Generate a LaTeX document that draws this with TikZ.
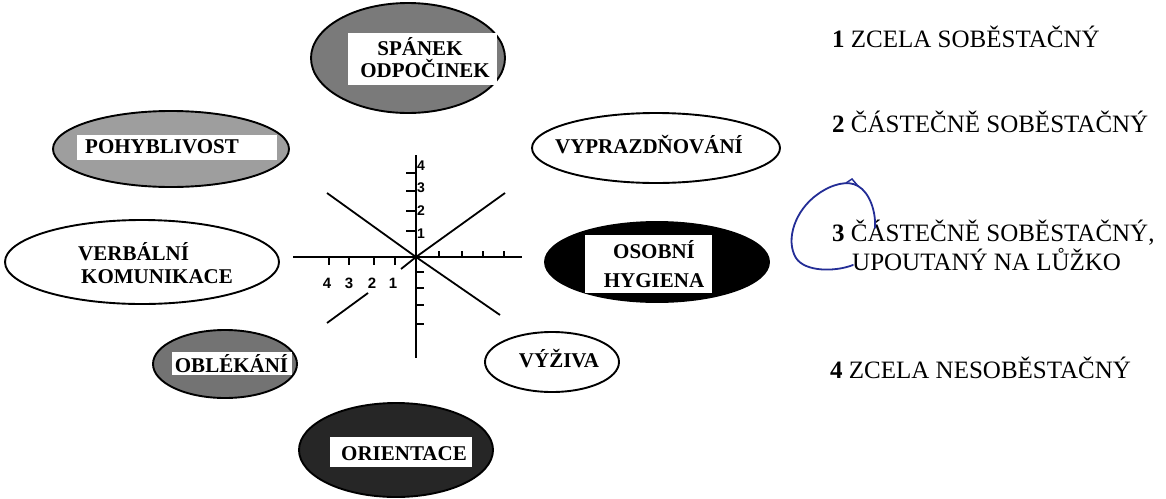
\documentclass[tikz,border=0pt]{standalone}
\usepackage{fontspec}
\setmainfont{Liberation Serif}
\setsansfont{Liberation Sans}
\usetikzlibrary{shapes.geometric}
\definecolor{penblue}{RGB}{35,45,150}
\begin{document}
\begin{tikzpicture}[x=1pt,y=-1pt,
  oval/.style={ellipse, draw=black, line width=1.9pt, inner sep=0pt},
  wbox/.style={fill=white, inner sep=0pt},
  lbl/.style={font=\fontsize{21}{22}\selectfont\bfseries, inner sep=0pt, anchor=base},
  axisline/.style={line width=1.8pt},
  tickline/.style={line width=1.5pt},
  num/.style={font=\sffamily\bfseries\fontsize{14}{14}\selectfont, inner sep=0pt, anchor=base},
  leg/.style={font=\fontsize{25}{27}\selectfont, anchor=base west, inner sep=0pt}]
\useasboundingbox[fill=white] (0,0) rectangle (1166,498);

% ---- ellipses ----
\node[oval, fill=black!52, minimum width=194, minimum height=110] (spanek) at (408,58) {};
\node[wbox, minimum width=149, minimum height=52] (spanekbox) at (422.5,59) {};
\node[lbl] (spanek1) at (420,55) {SPÁNEK};
\node[lbl] (spanek2) at (425,77) {ODPOČINEK};

\node[oval, fill=black!38, minimum width=236, minimum height=76] (pohyb) at (171,149) {};
\node[wbox, minimum width=200, minimum height=25] (pohybbox) at (177,147.5) {};
\node[lbl] (pohybt) at (162,153) {POHYBLIVOST};

\node[oval, fill=white, minimum width=274, minimum height=84] (verb) at (142,262) {};
\node[lbl, anchor=base west] (verb1) at (78,260) {VERBÁLNÍ};
\node[lbl, anchor=base west] (verb2) at (81,283) {KOMUNIKACE};

\node[oval, fill=white, minimum width=248, minimum height=70] (vypr) at (656,148) {};
\node[lbl] (vyprt) at (649,153) {VYPRAZDŇOVÁNÍ};

\node[oval, fill=black, minimum width=224, minimum height=80] (osob) at (657,262) {};
\node[wbox, minimum width=127, minimum height=58] (osobbox) at (648.5,264) {};
\node[lbl] (osob1) at (654,258) {OSOBNÍ};
\node[lbl] (osob2) at (654,287) {HYGIENA};

\node[oval, fill=black!55, minimum width=144, minimum height=68] (oblek) at (225,364) {};
\node[wbox, minimum width=120, minimum height=23] (oblekbox) at (232,363.5) {};
\node[lbl] (oblekt) at (231.5,372) {OBLÉKÁNÍ};

\node[oval, fill=white, minimum width=134, minimum height=60] (vyziva) at (552,362) {};
\node[lbl] (vyzivat) at (559,367) {VÝŽIVA};

\node[oval, fill=black!85, minimum width=194, minimum height=94] (orient) at (396,450) {};
\node[wbox, minimum width=142, minimum height=30] (orientbox) at (401,452) {};
\node[lbl] (orientt) at (404,460) {ORIENTACE};

% ---- axes ----
\coordinate (O) at (416,257);
\coordinate (xl) at (293,257);
\coordinate (xr) at (522,257);
\coordinate (yt) at (416,155);
\coordinate (yb) at (416,358);
\coordinate (ul) at (327,193);
\coordinate (ur) at (505,193);
\coordinate (lr) at (500,315);
\coordinate (llA) at (401,269);
\coordinate (llB) at (368,293);
\coordinate (llC) at (327,323);
\draw[axisline] (xl) -- (xr);
\draw[axisline] (yt) -- (yb);
\draw[axisline] (ul) -- (O) -- (lr);
\draw[axisline] (ur) -- (O) -- (llA);
\draw[axisline] (llB) -- (llC);
\foreach \y in {173,191,211,231} \draw[tickline] (406,\y) -- (416,\y);
\foreach \y in {272,288,305,324} \draw[tickline] (416,\y) -- (424,\y);
\foreach \x in {439,462,483,504} \draw[tickline] (\x,257) -- (\x,251);
\foreach \x in {329,349,374,395} \draw[tickline] (\x,257) -- (\x,265);
\node[num] (v4) at (421,170) {4};
\node[num] (v3) at (421,192) {3};
\node[num] (v2) at (421,215) {2};
\node[num] (v1) at (421,238) {1};
\node[num, font=\sffamily\bfseries\fontsize{15}{15}\selectfont] (h4) at (327,288) {4};
\node[num, font=\sffamily\bfseries\fontsize{15}{15}\selectfont] (h3) at (349,288) {3};
\node[num, font=\sffamily\bfseries\fontsize{15}{15}\selectfont] (h2) at (372,288) {2};
\node[num, font=\sffamily\bfseries\fontsize{15}{15}\selectfont] (h1) at (393,288) {1};

% ---- legend ----
\node[leg] (leg1) at (832,47) {\textbf{1} ZCELA SOBĚSTAČNÝ};
\node[leg] (leg2) at (832,132) {\textbf{2} ČÁSTEČNĚ SOBĚSTAČNÝ};
\node[leg] (leg3) at (832,241) {\textbf{3} ČÁSTEČNĚ SOBĚSTAČNÝ,};
\node[leg] (leg3b) at (852,270) {UPOUTANÝ NA LŮŽKO};
\node[leg] (leg4) at (830,378) {\textbf{4} ZCELA NESOBĚSTAČNÝ};

% ---- hand-drawn blue loop ----
\draw[penblue, line width=1.8pt, line cap=round]
  (853,265) .. controls (835,272) and (805,272) .. (796,258)
  .. controls (785,240) and (795,210) .. (818,194)
  .. controls (832,184) and (848,180) .. (858,186)
  .. controls (870,193) and (876,212) .. (875,228);
\draw[penblue, line width=1.5pt, line cap=round] (846,183) -- (852,179) -- (858,186);
\end{tikzpicture}
\end{document}
